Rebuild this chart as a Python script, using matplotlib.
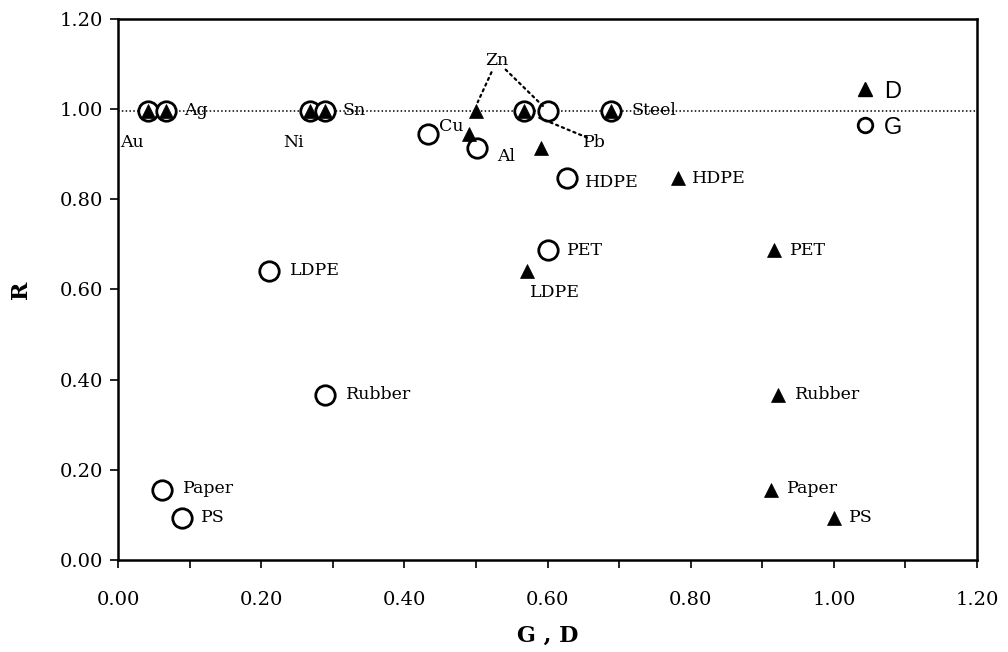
import matplotlib
matplotlib.use("Agg")
import matplotlib.pyplot as plt
from matplotlib.lines import Line2D
from matplotlib.ticker import MultipleLocator, FormatStrFormatter

# ---- data ----
materials = ['Au', 'Ag', 'Ni', 'Sn', 'Cu', 'Al', 'Zn', 'Pb', 'Steel',
             'HDPE', 'PET', 'LDPE', 'Rubber', 'Paper', 'PS']
G_vals = [0.042, 0.067, 0.268, 0.289, 0.433, 0.502, 0.600, 0.567, 0.689,
          0.627, 0.601, 0.211, 0.289, 0.062, 0.089]
D_vals = [0.042, 0.067, 0.268, 0.289, 0.490, 0.591, 0.500, 0.567, 0.689,
          0.782, 0.916, 0.571, 0.922, 0.912, 1.000]
R_vals = [0.995, 0.995, 0.995, 0.995, 0.944, 0.913, 0.995, 0.995, 0.995,
          0.847, 0.687, 0.642, 0.367, 0.156, 0.093]
ref_line = 0.995

x_ticks = [0.0, 0.2, 0.4, 0.6, 0.8, 1.0, 1.2]
y_ticks = [0.0, 0.2, 0.4, 0.6, 0.8, 1.0, 1.2]

# label placements: (material, series, dx_px, dy_px)
labels = [
    ('Au', 'G', -28, -31), ('Ag', 'G', 18, 1), ('Ni', 'G', -27, -31),
    ('Sn', 'G', 18, 1), ('Cu', 'G', 11, 8), ('Al', 'G', 20, -8),
    ('Steel', 'G', 20, 1), ('HDPE', 'G', 18, -4), ('HDPE', 'D', 14, 0),
    ('PET', 'G', 19, 0), ('PET', 'D', 16, 0), ('LDPE', 'G', 21, 0),
    ('LDPE', 'D', 3, -22), ('Rubber', 'G', 21, 0), ('Rubber', 'D', 17, 0),
    ('Paper', 'G', 21, 1), ('PS', 'G', 19, 1), ('Paper', 'D', 16, 1),
    ('PS', 'D', 15, 1),
]

serif = ['DejaVu Serif']
plt.rcParams['font.family'] = serif

fig = plt.figure(figsize=(10.08, 6.52), dpi=100)
ax = fig.add_axes([0.1171, 0.1411, 0.8522, 0.8298])

ax.set_xlim(0, 1.2)
ax.set_ylim(0, 1.2)

ax.axhline(ref_line, color='black', linestyle=(0, (1, 1.5)), linewidth=1.1, zorder=1)

ax.plot(G_vals, R_vals, linestyle='none', marker='o', markersize=14,
        markerfacecolor='white', markeredgecolor='black', markeredgewidth=2.0,
        zorder=3, clip_on=False)
ax.plot(D_vals, R_vals, linestyle='none', marker='^', markersize=10,
        markerfacecolor='black', markeredgecolor='black', markeredgewidth=0.5,
        zorder=4, clip_on=False)

idx = {m: i for i, m in enumerate(materials)}
for name, series, dx, dy in labels:
    i = idx[name]
    xv = G_vals[i] if series == 'G' else D_vals[i]
    ax.annotate(name, xy=(xv, R_vals[i]), xytext=(dx, dy),
                textcoords='offset pixels', ha='left', va='center',
                fontsize=12.5, zorder=6)

# Zn and Pb leader labels
i_zn = idx['Zn']
i_pb = idx['Pb']
zn_text = (0.529, 1.107)
ax.text(*zn_text, 'Zn', ha='center', va='center', fontsize=12.5, zorder=6)
leader = dict(arrowstyle='-', linestyle=(0, (1, 1.8)), linewidth=1.6, color='black',
              shrinkA=9, shrinkB=3)
ax.annotate('', xy=(D_vals[i_zn], R_vals[i_zn] + 0.012), xytext=zn_text,
            arrowprops=leader, zorder=5)
ax.annotate('', xy=(G_vals[i_zn] - 0.002, R_vals[i_zn] + 0.005), xytext=zn_text,
            arrowprops=leader, zorder=5)
pb_text = (0.650, 0.927)
ax.text(*pb_text, 'Pb', ha='left', va='center', fontsize=12.5, zorder=6)
ax.annotate('', xy=(G_vals[i_pb], R_vals[i_pb]), xytext=(pb_text[0] + 0.005, pb_text[1] + 0.01),
            arrowprops=dict(arrowstyle='-', linestyle=(0, (1, 1.8)), linewidth=1.6,
                            color='black', shrinkA=0, shrinkB=12), zorder=5)

# ticks
ax.set_xticks(x_ticks)
ax.set_yticks(y_ticks)
ax.xaxis.set_minor_locator(MultipleLocator(0.1))
ax.xaxis.set_major_formatter(FormatStrFormatter('%.2f'))
ax.yaxis.set_major_formatter(FormatStrFormatter('%.2f'))
ax.tick_params(axis='both', which='both', direction='out', length=6, width=1.2,
               labelsize=14, top=False, right=False)
ax.tick_params(axis='x', pad=16)
ax.tick_params(axis='y', pad=5)
for s in ax.spines.values():
    s.set_linewidth(1.8)

ax.set_xlabel('G , D', fontsize=16, fontweight='bold', labelpad=12)
ax.set_ylabel('R', fontsize=16, fontweight='bold', labelpad=20)

# legend
handles = [
    Line2D([], [], linestyle='none', marker='^', markersize=10,
           markerfacecolor='black', markeredgecolor='black'),
    Line2D([], [], linestyle='none', marker='o', markersize=10.5,
           markerfacecolor='white', markeredgecolor='black', markeredgewidth=2.0),
]
leg = ax.legend(handles, ['D', 'G'], loc='upper left', bbox_to_anchor=(0.842, 0.908),
                frameon=False, prop={'family': 'Liberation Sans', 'size': 17},
                handlelength=1.0, handletextpad=0.3, labelspacing=0.6, borderpad=0)

fig.savefig('out.png', dpi=100)
